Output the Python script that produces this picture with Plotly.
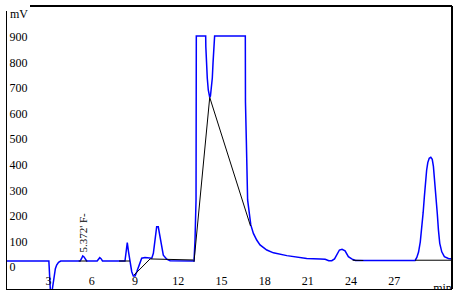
import plotly.graph_objects as go

# ---- data (time in min, signal in mV) ----
sig_t = [0, 2.95, 3.03, 3.13, 3.18, 3.22, 3.27, 3.39, 3.48, 3.57, 3.7, 3.85,
         5.2, 5.3, 5.38, 5.47, 5.56, 5.65,
         6.38, 6.47, 6.56, 6.65, 6.75,
         8.31, 8.40, 8.47, 8.56, 8.66, 8.78, 8.89, 9.01, 9.13, 9.31, 9.47, 9.70,
         10.17, 10.28, 10.40, 10.51, 10.62, 10.74, 10.86, 10.97, 11.21, 11.44, 13.05,
         13.10, 13.17, 13.24, 13.26, 13.91, 13.92, 13.96, 14.02, 14.09, 14.15, 14.19,
         14.24, 14.30, 14.37, 14.42, 14.48, 14.53, 16.66, 16.67, 16.73, 16.82, 17.04,
         17.22, 17.45, 17.68, 18.15, 18.61, 19.54, 20.46, 20.92, 21.85, 22.2, 22.45,
         22.66, 22.85, 23.0, 23.19, 23.37, 23.58, 23.81, 24.04, 24.3, 25.0,
         28.44, 28.56, 28.68, 28.80, 28.90, 29.0, 29.08, 29.16, 29.24, 29.32, 29.42,
         29.53, 29.63, 29.71, 29.80, 29.89, 29.98, 30.06, 30.15, 30.29, 30.47, 30.75, 31.0]
sig_mv = [0, 0, 0, -110, -400, -400, -110, -55, -30, -16, -5, 0,
          0, 10, 20, 16, 5, 0,
          0, 9, 13, 9, 0,
          0, 35, 72, 35, 0, -42, -59, -59, -42, -9, 11, 14,
          11, 30, 95, 134, 134, 95, 43, 23, 7, 1, 0,
          0, 82, 239, 880, 880, 838, 775, 716, 669, 645, 640,
          645, 669, 716, 775, 838, 880, 880, 623, 473, 239, 141,
          108, 82, 63, 43, 32, 21, 14, 10, 8, 7, 1,
          1, 8, 23, 43, 46, 40, 17, 8, 2, 2,
          2, 14, 35, 75, 125, 190, 250, 310, 355, 385, 402,
          406, 398, 370, 318, 250, 185, 121, 69, 36, 17, 10, 8]

# integration baselines (black)
base_t = [5.1, 5.7, None, 7.9, 8.66, None, 8.94, 10.05, 13.05, None,
          13.10, 14.19, 17.02, None, 24.1, 24.85, None, 28.44, 31.0]
base_mv = [0, 0, None, 0, 0, None, -55, 8, 4, None,
           -3, 640, 137, None, 3, 2, None, 3, 3]

y_ticks = [-100, 0, 100, 200, 300, 400, 500, 600, 700, 800, 900]
y_labels = [str(v) for v in y_ticks]
x_ticks = [3, 6, 9, 12, 15, 18, 21, 24, 27]
x_labels = [str(v) for v in x_ticks]
peak_label = "5.372' F-"
peak_label_pos = (5.43, 113)

SERIF = "Liberation Serif, serif"

fig = go.Figure()
fig.add_trace(go.Scatter(x=sig_t, y=sig_mv, mode="lines",
                         line=dict(color="#0000FF", width=1.5), hoverinfo="skip"))
fig.add_trace(go.Scatter(x=base_t, y=base_mv, mode="lines",
                         line=dict(color="#000000", width=1), hoverinfo="skip",
                         connectgaps=False))
# invisible trace for the secondary axis carrying the "min" unit label
fig.add_trace(go.Scatter(x=[None], y=[None], xaxis="x2", showlegend=False))

W, H = 458, 297
ml, mr, mt, mb = 7, 6, 11, 0
pw, ph = W - ml - mr, H - mt - mb
bottom_px = 289
dom0 = (H - bottom_px) / ph

def py(p):  # pixel row -> paper y
    return (H - p) / ph

def px(p):  # pixel column -> paper x
    return (p - ml) / pw

fig.update_layout(
    width=W, height=H, margin=dict(l=ml, r=mr, t=mt, b=mb, pad=0),
    paper_bgcolor="white", plot_bgcolor="white", showlegend=False,
    font=dict(family=SERIF),
    xaxis=dict(range=[0.125, 31.0], tickvals=x_ticks, ticktext=x_labels,
               ticklabelposition="inside", ticks="", showgrid=False, zeroline=False,
               showline=True, linecolor="black", linewidth=2,
               tickfont=dict(family=SERIF, size=12, color="black"),
               ticklabelstandoff=1),
    xaxis2=dict(range=[0.125, 31.0], overlaying="x", anchor="free", position=0,
                side="bottom", tickvals=[30.34], ticktext=["min"],
                ticklabelposition="inside", ticks="", showgrid=False, zeroline=False,
                showline=False, tickfont=dict(family=SERIF, size=12, color="black")),
    yaxis=dict(domain=[dom0, 1], range=[-109.55, 978.1], tickvals=y_ticks,
               ticktext=y_labels, ticklabelposition="inside", ticks="",
               ticklabelshift=6, ticklabelstandoff=2,
               showgrid=False, zeroline=False, showline=True, linecolor="black",
               linewidth=1, tickfont=dict(family=SERIF, size=12, color="black")),
    shapes=[
        # cover everything below the frame
        dict(type="rect", xref="paper", yref="paper", x0=-0.1, x1=1.1,
             y0=-0.2, y1=py(290), fillcolor="white", line=dict(width=0), layer="above"),
        # top border
        dict(type="line", xref="paper", yref="paper", x0=px(30), x1=px(452),
             y0=py(6), y1=py(6), line=dict(color="black", width=2), layer="above"),
        # right border
        dict(type="line", xref="paper", yref="paper", x0=px(452), x1=px(452),
             y0=py(289), y1=py(6), line=dict(color="black", width=2), layer="above"),
    ],
    annotations=[
        dict(text="mV", xref="paper", yref="paper", x=px(8), y=py(14.5),
             xanchor="left", yanchor="middle", showarrow=False,
             font=dict(family=SERIF, size=12, color="black")),
        dict(text=peak_label, x=peak_label_pos[0], y=peak_label_pos[1], xref="x", yref="y",
             textangle=-90, showarrow=False, xanchor="center", yanchor="middle",
             font=dict(family=SERIF, size=11, color="black")),
    ],
)

fig.write_html("out.html")
